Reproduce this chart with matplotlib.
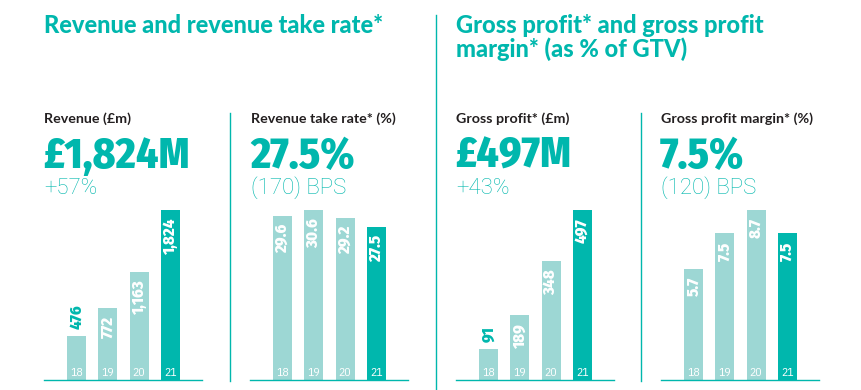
import matplotlib
matplotlib.use("Agg")
import matplotlib.pyplot as plt
from matplotlib.lines import Line2D
from matplotlib import font_manager as fm
from matplotlib.textpath import TextPath

# ---- data ----
years = ["18", "19", "20", "21"]
revenue = [476, 772, 1163, 1824]
take_rate = [29.6, 30.6, 29.2, 27.5]
gross_profit = [91, 189, 348, 497]
gp_margin = [5.7, 7.5, 8.7, 7.5]

revenue_labels = ["476", "772", "1,163", "1,824"]
take_rate_labels = ["29.6", "30.6", "29.2", "27.5"]
gp_labels = ["91", "189", "348", "497"]
margin_labels = ["5.7", "7.5", "8.7", "7.5"]

title_left = "Revenue and revenue take rate*"
title_right_1 = "Gross profit* and gross profit"
title_right_2 = "margin* (as % of GTV)"
sub_titles = ["Revenue (£m)", "Revenue take rate* (%)", "Gross profit* (£m)", "Gross profit margin* (%)"]
headlines = ["£1,824M", "27.5%", "£497M", "7.5%"]
changes = ["+57%", "(170) BPS", "+43%", "(120) BPS"]

# ---- style ----
TEAL = "#00B7AD"
LIGHT = "#9DD7D4"
DARK = "#231F20"
W, H = 862, 390


def _w(f):
    w = f.weight
    if isinstance(w, str):
        w = fm.weight_dict.get(w, 400)
    return w


def condensed_entries(wmin, wmax):
    out = []
    for f in fm.fontManager.ttflist:
        nm = (f.name + " " + f.fname).lower()
        st = str(f.stretch).lower()
        if ("condensed" in nm or "narrow" in nm or "condensed" in st) and "italic" not in nm and f.style == "normal":
            if wmin <= _w(f) <= wmax:
                out.append(f)
    return out


def ratio(path, s):
    fp = fm.FontProperties(fname=path, size=100)
    wd = TextPath((0, 0), s, prop=fp).get_extents().width
    ht = TextPath((0, 0), "M", prop=fp).get_extents().height
    return wd / ht, ht / 100.0


def best_font(wmin, wmax, sample, target_ratio, prefer_w):
    best = None
    for f in condensed_entries(wmin, wmax):
        try:
            r, capfrac = ratio(f.fname, sample)
        except Exception:
            continue
        score = abs(r - target_ratio) + abs(_w(f) - prefer_w) / 400.0
        if best is None or score < best[0]:
            best = (score, f.fname, capfrac)
    return best


head_font = best_font(600, 950, "£1,824M", 4.8, 800)
reg_font = best_font(300, 450, "18", 1.4, 400)


def fp_from(best, size, bold=True):
    if best:
        return fm.FontProperties(fname=best[1], size=size)
    return fm.FontProperties(family=["Liberation Sans", "DejaVu Sans"],
                             weight="bold" if bold else "normal", size=size)


if head_font:
    r, capfrac = ratio(head_font[1], "£1,824M")
    size_h = 30 / capfrac * 0.72
    size_w = 144 / (r * capfrac) * 0.72
    head_size = (size_h + size_w) / 2
    lab_size = 11.5 / capfrac * 0.72
else:
    head_size = 27
    lab_size = 10.5

fig = plt.figure(figsize=(W / 100, H / 100), dpi=100)
fig.patch.set_facecolor("white")
renderer = fig.canvas.get_renderer()


def fx(px):
    return px / W


def fy(py):
    return 1 - py / H


def fit_width(t, target_px, max_size=None):
    bb = t.get_window_extent(renderer=renderer)
    s = t.get_fontsize() * target_px / bb.width
    if max_size is not None:
        s = min(s, max_size)
    t.set_fontsize(s)
    return s


panels = [
    (44, revenue, revenue_labels),
    (250, take_rate, take_rate_labels),
    (456, gross_profit, gp_labels),
    (661, gp_margin, margin_labels),
]
text_x = [44, 251, 456, 661]

for i, (left, vals, labs) in enumerate(panels):
    ax = fig.add_axes([fx(left), 10 / H, 158 / W, 170 / H])
    colors = [LIGHT] * (len(vals) - 1) + [TEAL]
    x = list(range(len(vals)))
    ax.bar(x, vals, width=0.61, color=colors, zorder=2)
    ax.set_xlim(-1.05, 4.02)
    ax.set_ylim(0, max(vals))
    for s in ["top", "right", "left"]:
        ax.spines[s].set_visible(False)
    ax.spines["bottom"].set_color(TEAL)
    ax.spines["bottom"].set_linewidth(1.0)
    ax.set_xticks([])
    ax.set_yticks([])
    ax.patch.set_alpha(0)
    vmax = max(vals)
    for xi, v, lab, yr in zip(x, vals, labs, years):
        if v / vmax < 0.3:
            ax.annotate(lab, (xi, v), xytext=(0, 7), textcoords="offset pixels",
                        rotation=90, ha="center", va="bottom", color=TEAL,
                        fontproperties=fp_from(head_font, lab_size), clip_on=False)
        else:
            ax.annotate(lab, (xi, v), xytext=(0, -8), textcoords="offset pixels",
                        rotation=90, ha="center", va="top", color="white",
                        fontproperties=fp_from(head_font, lab_size))
        ax.annotate(yr, (xi, 0), xytext=(0, 4), textcoords="offset pixels",
                    ha="center", va="baseline", color="white",
                    fontproperties=fp_from(reg_font, 8.5, bold=False))

    tx = text_x[i]
    fig.text(fx(tx), fy(123), sub_titles[i], fontsize=10.3, fontweight="bold",
             color=DARK, family=["Lato", "DejaVu Sans"], ha="left", va="baseline")
    fig.text(fx(tx - 1), fy(168), headlines[i], fontproperties=fp_from(head_font, head_size),
             color=TEAL, ha="left", va="baseline")
    fig.text(fx(tx), fy(194), changes[i], fontsize=16, fontweight="light",
             color=TEAL, family=["Roboto", "DejaVu Sans"], ha="left", va="baseline")

t1 = fig.text(fx(44), fy(33), title_left, fontsize=17, fontweight="black",
              color=TEAL, family=["Lato", "DejaVu Sans"], ha="left", va="baseline")
tsize = fit_width(t1, 339, max_size=18)
fig.text(fx(456), fy(33), title_right_1, fontsize=tsize, fontweight="black",
         color=TEAL, family=["Lato", "DejaVu Sans"], ha="left", va="baseline")
fig.text(fx(456), fy(57), title_right_2, fontsize=tsize, fontweight="black",
         color=TEAL, family=["Lato", "DejaVu Sans"], ha="left", va="baseline")

# dividers
for xpx, y0, y1 in [(230, 113, 381), (641, 113, 381), (436, 15, 390)]:
    fig.add_artist(Line2D([fx(xpx), fx(xpx)], [fy(y0), fy(y1)],
                          transform=fig.transFigure, color=TEAL, linewidth=1.0))

fig.savefig("out.png", dpi=100, facecolor="white")
